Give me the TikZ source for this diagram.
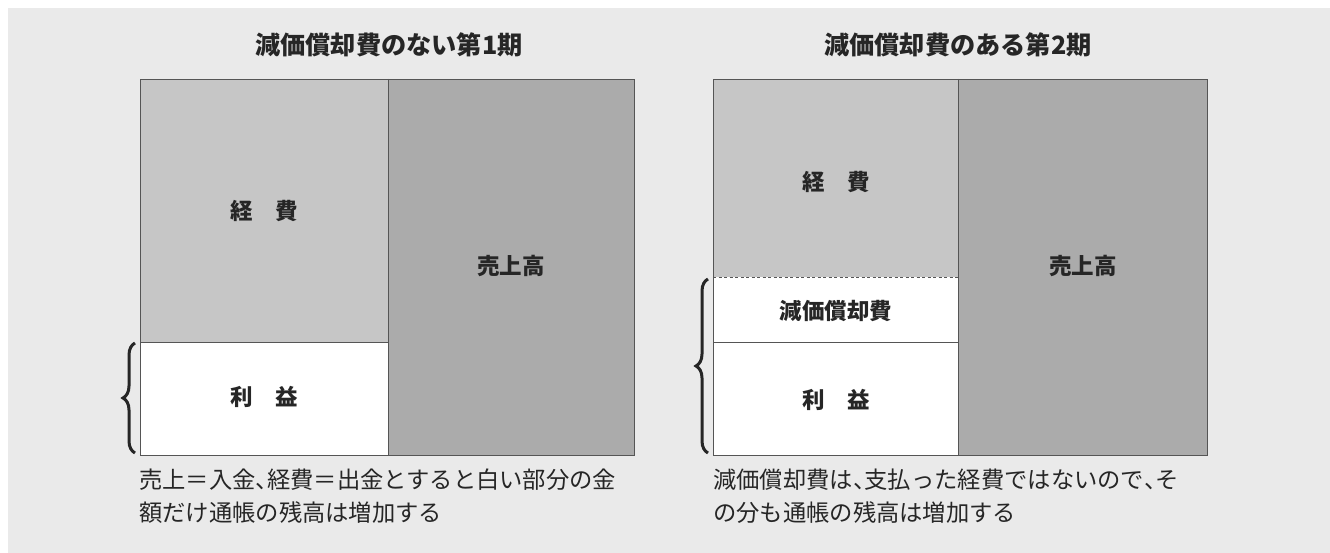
\documentclass[tikz,border=0pt]{standalone}
\usepackage{fontspec}
\usetikzlibrary{decorations.pathreplacing}
\newfontfamily\jp{Noto Sans CJK JP}
\newcommand{\hc}{\makebox[0.5em][l]{、}}
\definecolor{bgc}{HTML}{EAEAEA}
\definecolor{costc}{HTML}{C6C6C6}
\definecolor{salesc}{HTML}{ABABAB}
\definecolor{framec}{HTML}{555555}
\tikzset{
  frameline/.style={draw=framec, line width=0.9pt},
  dashsep/.style={draw=framec, line width=0.9pt, dash pattern=on 3pt off 2.5pt},
  titletext/.style={font=\jp\bfseries\fontsize{25.2}{30}\selectfont, text=black!85},
  lbl/.style={font=\jp\bfseries\fontsize{22.5}{26}\selectfont, text=black!85},
  captext/.style={font=\jp\fontsize{23.3}{33}\selectfont, text=black!85, align=left, anchor=north west, inner sep=0pt},
  bracestyle/.style={decorate, decoration={brace, amplitude=12pt}, line width=3pt, draw=black!85},
}
\begin{document}
\begin{tikzpicture}[x=1pt,y=-1pt]
\useasboundingbox (0,0) rectangle (1330,553);
\fill[white] (0,0) rectangle (1330,553);
\fill[bgc] (8,8) rectangle (1330,553);

% ---------- left panel ----------
\node[titletext] (t1) at (389,45) {減価償却費のない第1期};
\fill[costc] (140,79) rectangle (388,342);
\fill[salesc] (388,79) rectangle (634,455);
\fill[white] (140,342) rectangle (388,455);
\draw[frameline] (140,79) rectangle (634,455);
\draw[frameline] (388,79) -- (388,455);
\draw[frameline] (140,342) -- (388,342);
\node[lbl] (k1) at (264,211) {経\hspace{1em}費};
\node[lbl] (u1) at (511,266) {売上高};
\node[lbl] (r1) at (264,397) {利\hspace{1em}益};
\coordinate (b1a) at (135,453);
\coordinate (b1b) at (135,343);
\draw[bracestyle] (b1a) -- (b1b);
\node[captext] (c1) at (139,469) {売上＝入金\hc 経費＝出金とすると白い部分の金\\額だけ通帳の残高は増加する};

% ---------- right panel ----------
\node[titletext] (t2) at (958,45) {減価償却費のある第2期};
\fill[costc] (713,79) rectangle (958,277);
\fill[salesc] (958,79) rectangle (1207,455);
\fill[white] (713,277) rectangle (958,455);
\draw[frameline] (713,79) rectangle (1207,455);
\draw[frameline] (958,79) -- (958,455);
\draw[dashsep] (713,277) -- (958,277);
\draw[frameline] (713,342) -- (958,342);
\node[lbl] (k2) at (836,182) {経\hspace{1em}費};
\node[lbl] (u2) at (1083,266) {売上高};
\node[lbl] (g2) at (836,311) {減価償却費};
\node[lbl] (r2) at (836,400) {利\hspace{1em}益};
\coordinate (b2a) at (708,453);
\coordinate (b2b) at (708,279);
\draw[bracestyle] (b2a) -- (b2b);
\node[captext] (c2) at (713,469) {減価償却費は\hc 支払った経費ではないので\hc そ\\の分も通帳の残高は増加する};
\end{tikzpicture}
\end{document}
